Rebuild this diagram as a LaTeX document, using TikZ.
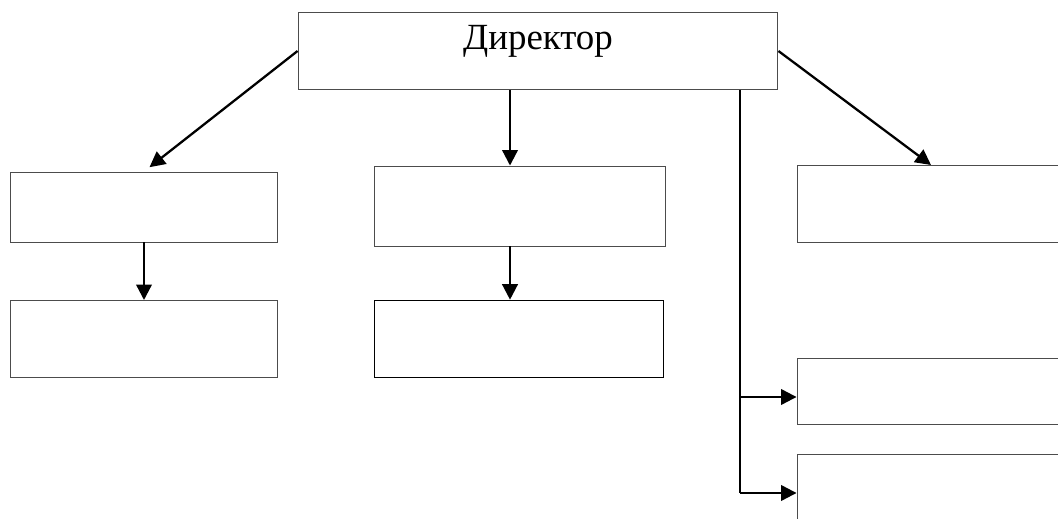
\documentclass[tikz,border=0pt]{standalone}
\usepackage{fontspec}
\setmainfont{Liberation Serif}
\usetikzlibrary{arrows.meta, calc}

\tikzset{
	unit/.style={draw=black!70, line width=0.55pt, minimum width=5.36cm, minimum height=1.5cm, inner sep=0pt},
	link/.style={line width=1.3pt, -{Triangle[length=0.31cm, width=0.31cm]}}
}

\begin{document}
\begin{tikzpicture}[x=0.02cm, y=-0.02cm]
	\useasboundingbox (0,0) rectangle (1058,519);

	% Draw the director at the top
	\node[unit, minimum width=9.6cm, minimum height=1.54cm, text height=0.74cm, text depth=0.80cm]
		(dir) at (538,51) {\fontsize{21}{25}\selectfont Директор};

	% Draw the boxes of the left and middle branches
	\node[unit, minimum height=1.4cm] (l1) at (144,207) {};
	\node[unit, minimum height=1.54cm] (l2) at (144,339) {};
	\node[unit, minimum width=5.82cm, minimum height=1.6cm] (m1) at (520,206) {};
	\node[unit, draw=black, line width=0.9pt, minimum width=5.78cm, minimum height=1.54cm] (m2) at (519,339) {};

	% Draw the boxes of the right branch
	\node[unit, minimum height=1.54cm] (r1) at (931,204) {};
	\node[unit, minimum height=1.32cm] (r2) at (931,391) {};
	\node[unit, minimum height=1.56cm] (r3) at (931,493) {};

	% Define where the vertical lines leave the director
	\coordinate (mid) at (510,0);
	\coordinate (branch) at (740,0);
	\coordinate (r2in) at ($(r2.west)+(0,6)$);

	% Draw the links from the director
	\draw[link, shorten >=0.14cm] (dir.west) -- (l1.north);
	\draw[link] (dir.south -| mid) -- (m1.north -| mid);
	\draw[link] (dir.east) -- (r1.north);

	% Draw the links below the first boxes
	\draw[link] (l1.south) -- (l2.north);
	\draw[link] (m1.south -| mid) -- (m2.north -| mid);

	% Draw the side branch to the lower right boxes
	\draw[line width=1.3pt] (dir.south -| branch) -- (r3.west -| branch);
	\draw[link] (r2in -| branch) -- (r2in);
	\draw[link] (r3.west -| branch) -- (r3.west);
\end{tikzpicture}
\end{document}
